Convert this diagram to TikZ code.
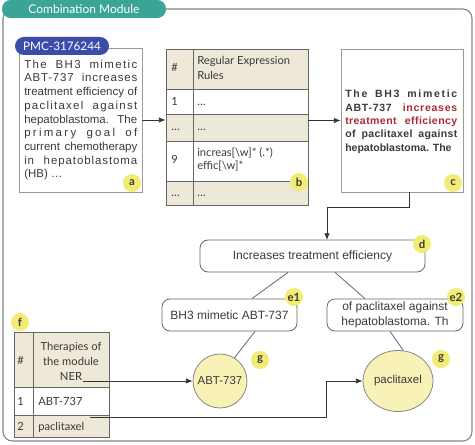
\documentclass[tikz,border=0pt]{standalone}
\usepackage{fontspec}
\setmainfont{Liberation Sans}
\newfontfamily\lato{Lato}
\usetikzlibrary{arrows.meta,fit,calc,shapes.geometric}
\definecolor{tabteal}{HTML}{3AA596}
\definecolor{pillblue}{HTML}{3B4DA8}
\definecolor{beige}{HTML}{EEE8D8}
\definecolor{lblyellow}{HTML}{F2EB74}
\definecolor{circfill}{HTML}{F8F2B6}
\definecolor{txtgray}{HTML}{3A3A3A}
\definecolor{boxgray}{HTML}{9A9A9A}
\definecolor{linegray}{HTML}{666666}
\definecolor{hlred}{HTML}{A82A35}
\newcommand\jl[2]{\makebox[\linewidth][s]{\addfontfeature{LetterSpace=#1}#2}}
\begin{document}
\begin{tikzpicture}[x=0.75pt,y=-0.75pt,
  lbl/.style={circle,fill=lblyellow,inner sep=0pt,minimum size=13.5pt,
    font=\lato\fontsize{8.5}{9}\selectfont\bfseries,text=txtgray},
  tabtxt/.style={font=\lato\fontsize{8.4}{10}\selectfont,text=txtgray,inner sep=0pt},
  rbox/.style={draw=linegray,line width=0.6pt,rounded corners=6pt,
    font=\fontsize{9}{11.5}\selectfont,text=txtgray,align=center,
    minimum height=24pt,inner sep=0pt},
  conn/.style={draw=linegray,line width=0.6pt},
  arr/.style={draw=black!80,line width=0.6pt,-{Latex[length=5pt,width=4pt]}},
  tline/.style={draw=linegray,line width=0.7pt}]
\useasboundingbox (0,0) rectangle (475,445);

% outer frame
\draw[draw=linegray!80,line width=0.8pt,rounded corners=7pt] (3,9) rectangle (472,441);
\node (tab) [fill=tabteal,rounded corners=6.5pt,minimum width=123pt,minimum height=13.5pt,
  inner sep=0pt,text=white,font=\lato\fontsize{9}{10}\selectfont] at (84,9) {Combination Module};

% box a
\node (a) [fit={(19,48) (142,192)},inner sep=0pt,draw=boxgray,line width=0.6pt,fill=white] {};
\node (pmc) [fill=pillblue,rounded corners=6.75pt,minimum width=70.5pt,minimum height=13.5pt,
  inner sep=0pt,text=white,font=\lato\fontsize{8.8}{10}\selectfont] at (62,46) {PMC-3176244};
\node (atext) [anchor=north west,inner sep=0pt,text=txtgray] at (24,59.5) {%
  \parbox[t]{84.75pt}{\fontsize{8.6}{10.3}\selectfont
  \jl{12}{The BH3 mimetic}\\
  \jl{7}{ABT-737 increases}\\
  \jl{0}{treatment efficiency of}\\
  \jl{11}{paclitaxel against}\\
  \jl{0}{hepatoblastoma. The}\\
  \jl{20}{primary goal of}\\
  \jl{0}{current chemotherapy}\\
  \jl{8}{in hepatoblastoma}\\
  (HB) \ldots}};

% table b
\fill[beige] (166,49) rectangle (308,89);
\fill[beige] (166,114) rectangle (308,141);
\fill[beige] (166,181) rectangle (308,205);
\node (tb) [fit={(166,49) (308,205)},inner sep=0pt,tline] {};
\draw[tline] (166,89) -- (308,89) (166,114) -- (308,114) (166,141) -- (308,141)
  (166,181) -- (308,181) (193,49) -- (193,205);
\node (bh1) [tabtxt,anchor=base west] at (171,72) {\#};
\node (bh2) [tabtxt,anchor=base west,align=left,font=\lato\fontsize{8.4}{11.25}\selectfont] at (197,80) {Regular Expression\\Rules};
\node (b11) [tabtxt,anchor=base west] at (171,106) {1};
\node (b12) [tabtxt,anchor=base west] at (197,106) {\ldots};
\node (b21) [tabtxt,anchor=base west] at (171,131) {\ldots};
\node (b22) [tabtxt,anchor=base west] at (197,131) {\ldots};
\node (b31) [tabtxt,anchor=base west] at (171,164) {9};
\node (b32) [tabtxt,anchor=base west] at (197,157) {increas[\textbackslash w]* (.*)};
\node (b33) [tabtxt,anchor=base west] at (197,170) {effic[\textbackslash w]*};
\node (b41) [tabtxt,anchor=base west] at (171,197) {\ldots};
\node (b42) [tabtxt,anchor=base west] at (197,197) {\ldots};

% box c
\node (c) [fit={(341,49) (463,192)},inner sep=0pt,draw=boxgray,line width=0.6pt] {};
\node (ctext) [anchor=north west,inner sep=0pt,text=txtgray] at (345,90) {%
  \parbox[t]{84pt}{\fontsize{7.9}{10}\selectfont\bfseries
  \jl{16}{The BH3 mimetic}\\
  \jl{7}{ABT-737 \textcolor{hlred}{increases}}\\
  \textcolor{hlred}{\jl{4}{treatment efficiency}}\\
  \jl{3}{of paclitaxel against}\\
  hepatoblastoma. The}};

% arrows a->b->c
\draw[arr] (a.east) -- (a.east -| tb.west);
\draw[arr] (c.west -| tb.east) -- (c.west);

% box d
\node (d) [rbox,minimum width=168.75pt] at (312.5,256) {Increases treatment efficiency};
\coordinate (c1) at (409,192);
\coordinate (cbend) at (409,207);
\coordinate (d1) at (327,240);
\draw[arr] (c1) -- (cbend) -| (d1);

% e boxes
\node (e1) [rbox,minimum width=101.25pt] at (229.5,315) {BH3 mimetic ABT-737};
\node (e2) [rbox,minimum width=102pt,font=\fontsize{9}{11.5}\selectfont] at (395,315) {of paclitaxel against\\hepatoblastoma. Th};
\draw[conn] (288,0 |- d.south) -- (252,0 |- e1.north);
\draw[conn] (335,0 |- d.south) -- (365,0 |- e2.north);

% g nodes
\node (abt) [circle,draw=linegray!80,line width=0.6pt,fill=circfill,minimum size=40.5pt,inner sep=0pt,
  text=txtgray,font=\fontsize{8.6}{10}\selectfont] at (220,381) {ABT-737};
\node (pac) [ellipse,draw=linegray!80,line width=0.6pt,fill=circfill,minimum width=52.5pt,minimum height=45.75pt,
  inner sep=0pt,text=txtgray,font=\fontsize{8.6}{10}\selectfont] at (398,381) {paclitaxel};
\draw[conn] (255,0 |- e1.south) -- (abt.58);
\draw[conn] (390,0 |- e2.south) -- (pac.80);

% table f
\fill[beige] (14,332) rectangle (109,387);
\fill[beige] (14,415) rectangle (109,437);
\node (tf) [fit={(14,332) (109,437)},inner sep=0pt,tline] {};
\draw[tline] (14,387) -- (109,387) (14,415) -- (109,415) (33,332) -- (33,437);
\node (fh1) [tabtxt] at (20.5,360) {\#};
\node (fh2) [tabtxt,align=center,font=\lato\fontsize{8.4}{11.25}\selectfont] at (71,361) {Therapies of\\the module\\NER};
\node (f11) [tabtxt,anchor=base] at (20.5,405) {1};
\node (f12) [tabtxt,anchor=base west] at (38,405) {ABT-737};
\node (f21) [tabtxt,anchor=base] at (20.5,430) {2};
\node (f22) [tabtxt,anchor=base west] at (38,430) {paclitaxel};

\coordinate (fs1) at (83,381);
\coordinate (fs2) at (90,417);
\coordinate (pbend) at (326,381);
\draw[arr] (fs1) -- (abt.west);
\draw[arr] (fs2) -| (pbend) -- (pac.west);

% labels
\node (la) [lbl] at (132,183) {a};
\node (lb) [lbl] at (299,182) {b};
\node (lc) [lbl] at (453,183) {c};
\node (ld) [lbl] at (422,244) {d};
\node (le1) [lbl] at (294,297) {e1};
\node (le2) [lbl] at (456,297) {e2};
\node (lf) [lbl] at (20,322) {f};
\node (lg1) [lbl] at (260,360) {g};
\node (lg2) [lbl] at (441,359) {g};
\end{tikzpicture}
\end{document}
